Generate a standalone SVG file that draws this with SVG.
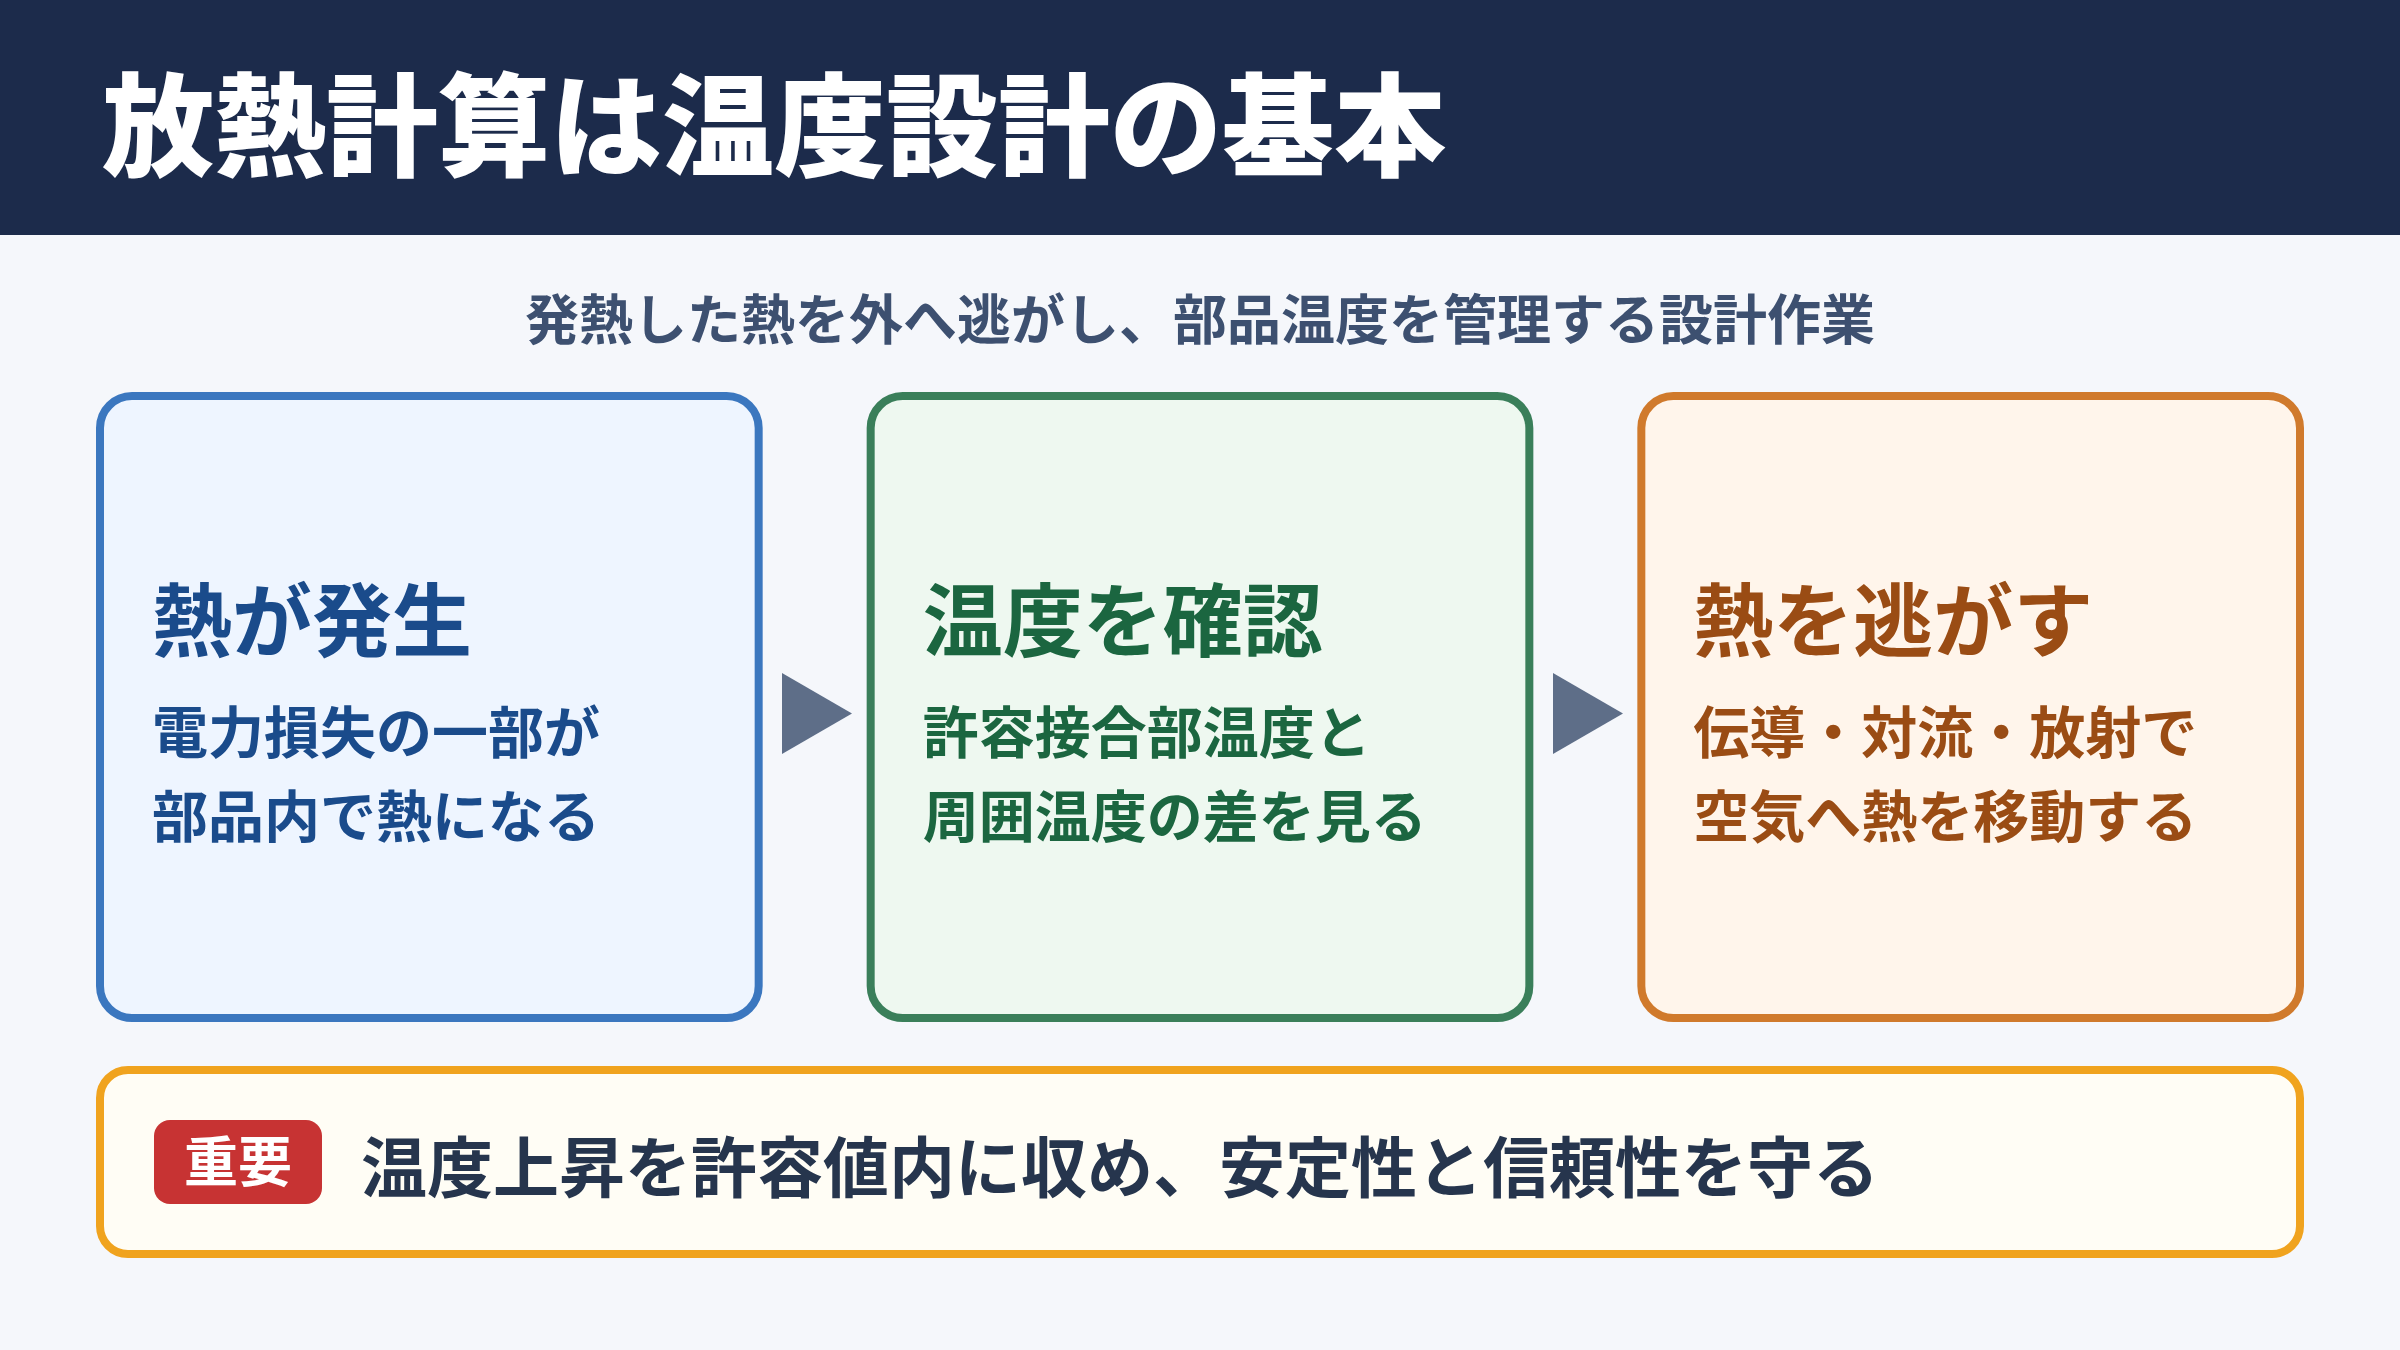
<svg xmlns="http://www.w3.org/2000/svg" width="2400" height="1350" viewBox="0 0 2400 1350">
  <style>
    text { font-family: "Noto Sans CJK JP", "Noto Sans", sans-serif; font-weight: 700; }
    .title { font-size: 112px; fill: #FFFFFF; font-weight: 900; }
    .subtitle { font-size: 54px; fill: #3D5070; }
    .card { stroke-width: 8; }
    .head { font-size: 80px; }
    .body { font-size: 56px; }
    .c1 { fill: #EEF5FF; stroke: #3B77BF; }
    .c2 { fill: #EEF8F0; stroke: #3A7F5A; }
    .c3 { fill: #FFF5EB; stroke: #D07A2C; }
    .t1 { fill: #1A4B8B; }
    .t2 { fill: #1B6640; }
    .t3 { fill: #9A4C14; }
    .arrow { fill: #5E6E88; }
  </style>
  <rect x="0" y="0" width="2400" height="1350" fill="#F5F7FB"/>
  <g id="header">
    <rect x="0" y="0" width="2400" height="235" fill="#1C2B4B"/>
    <text class="title" x="102" y="168">放熱計算は温度設計の基本</text>
  </g>
  <g id="subtitle">
    <text class="subtitle" x="1200" y="340" text-anchor="middle">発熱した熱を外へ逃がし、部品温度を管理する設計作業</text>
  </g>
  <g id="node-heat">
    <rect class="card c1" x="100" y="396" width="658.67" height="622" rx="32"/>
    <text class="head t1" x="152" y="650">熱が発生</text>
    <text class="body t1" x="152" y="753">電力損失の一部が</text>
    <text class="body t1" x="152" y="837">部品内で熱になる</text>
  </g>
  <g id="node-temp">
    <rect class="card c2" x="870.67" y="396" width="658.67" height="622" rx="32"/>
    <text class="head t2" x="922.67" y="650">温度を確認</text>
    <text class="body t2" x="922.67" y="753">許容接合部温度と</text>
    <text class="body t2" x="922.67" y="837">周囲温度の差を見る</text>
  </g>
  <g id="node-release">
    <rect class="card c3" x="1641.33" y="396" width="658.67" height="622" rx="32"/>
    <text class="head t3" x="1693.33" y="650">熱を逃がす</text>
    <text class="body t3" x="1693.33" y="753">伝導・対流・放射で</text>
    <text class="body t3" x="1693.33" y="837">空気へ熱を移動する</text>
  </g>
  <g id="connectors">
    <polygon class="arrow" points="782,673 852,713.5 782,754"/>
    <polygon class="arrow" points="1553,673 1623,713.5 1553,754"/>
  </g>
  <g id="note">
    <rect x="100" y="1070" width="2200" height="184" rx="28" fill="#FFFDF5" stroke="#F0A31E" stroke-width="8"/>
    <rect x="154" y="1120" width="168" height="84" rx="16" fill="#C73333"/>
    <text x="238" y="1182" text-anchor="middle" font-size="54" fill="#FFFFFF">重要</text>
    <text x="361" y="1192" font-size="66" fill="#26354D">温度上昇を許容値内に収め、安定性と信頼性を守る</text>
  </g>
</svg>
